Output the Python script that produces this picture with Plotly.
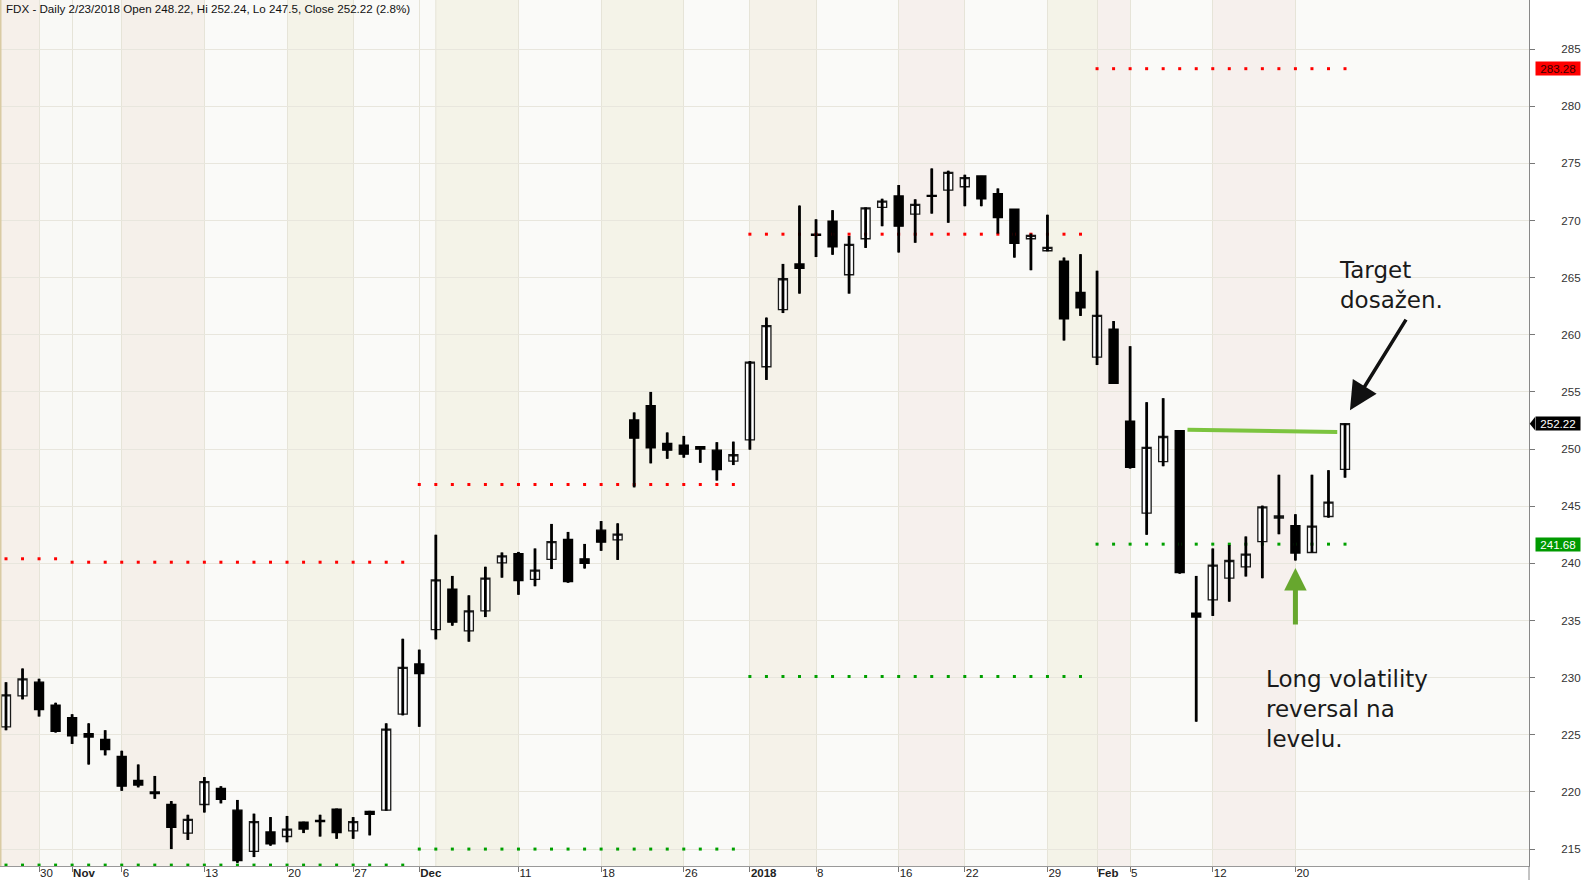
import plotly.graph_objects as go

# ---------------- data ----------------
dates = [
    "2017-10-26", "2017-10-27", "2017-10-30", "2017-10-31", "2017-11-01", "2017-11-02", "2017-11-03",
    "2017-11-06", "2017-11-07", "2017-11-08", "2017-11-09", "2017-11-10",
    "2017-11-13", "2017-11-14", "2017-11-15", "2017-11-16", "2017-11-17",
    "2017-11-20", "2017-11-21", "2017-11-22", "2017-11-24",
    "2017-11-27", "2017-11-28", "2017-11-29", "2017-11-30", "2017-12-01",
    "2017-12-04", "2017-12-05", "2017-12-06", "2017-12-07", "2017-12-08",
    "2017-12-11", "2017-12-12", "2017-12-13", "2017-12-14", "2017-12-15",
    "2017-12-18", "2017-12-19", "2017-12-20", "2017-12-21", "2017-12-22",
    "2017-12-26", "2017-12-27", "2017-12-28", "2017-12-29",
    "2018-01-02", "2018-01-03", "2018-01-04", "2018-01-05",
    "2018-01-08", "2018-01-09", "2018-01-10", "2018-01-11", "2018-01-12",
    "2018-01-16", "2018-01-17", "2018-01-18", "2018-01-19",
    "2018-01-22", "2018-01-23", "2018-01-24", "2018-01-25", "2018-01-26",
    "2018-01-29", "2018-01-30", "2018-01-31", "2018-02-01", "2018-02-02",
    "2018-02-05", "2018-02-06", "2018-02-07", "2018-02-08", "2018-02-09",
    "2018-02-12", "2018-02-13", "2018-02-14", "2018-02-15", "2018-02-16",
    "2018-02-20", "2018-02-21", "2018-02-22", "2018-02-23",
]
opens = [
    225.7, 228.4, 229.6, 227.6, 226.5, 225.1, 224.6,
    223.1, 221.0, 220.0, 218.9, 216.4,
    218.9, 220.3, 218.4, 214.8, 216.5,
    216.1, 217.35, 217.5, 218.5,
    216.6, 218.3, 218.4, 226.8, 231.2,
    234.2, 237.75, 234.1, 235.85, 240.05,
    240.85, 238.6, 240.35, 242.1, 240.4,
    242.9, 242.05, 252.55, 253.8, 250.5,
    250.35, 250.2, 249.9, 248.95,
    250.8, 257.2, 262.2, 266.2,
    268.8, 269.95, 265.25, 268.4, 271.15,
    272.15, 270.55, 272.2, 272.65,
    272.95, 273.9, 272.35, 271.0, 268.4,
    267.35, 266.45, 263.7, 258.05, 260.5,
    252.45, 244.4, 248.9, 251.6, 235.65,
    236.8, 238.7, 239.7, 241.9, 243.95,
    243.3, 240.95, 244.1, 248.22,
]
highs = [
    229.6, 230.8, 229.9, 227.8, 226.8, 226.0, 225.4,
    223.6, 222.4, 221.4, 219.2, 218.0,
    221.3, 220.5, 219.3, 218.1, 217.8,
    217.9, 217.4, 218.0, 218.55,
    217.8, 218.35, 226.0, 233.4, 232.45,
    242.5, 238.9, 237.2, 239.7, 240.95,
    241.0, 241.3, 243.45, 242.75, 241.7,
    243.7, 243.5, 253.2, 255.0, 251.45,
    251.15, 250.25, 250.6, 250.65,
    257.7, 261.5, 266.2, 271.3,
    270.1, 270.9, 268.65, 271.15, 271.9,
    273.1, 271.85, 274.55, 274.35,
    274.0, 273.9, 272.8, 271.0, 268.85,
    270.5, 266.75, 267.05, 265.6, 261.2,
    259.0, 254.1, 254.45, 251.65, 238.9,
    241.3, 241.6, 242.35, 245.05, 247.75,
    244.3, 247.75, 248.15, 252.24,
]
lows = [
    225.4, 228.1, 226.6, 225.2, 224.2, 222.4, 223.2,
    220.1, 220.4, 219.4, 215.0, 215.8,
    218.2, 219.0, 213.8, 214.3, 215.3,
    215.6, 216.4, 216.1, 215.9,
    215.9, 216.2, 218.35, 226.7, 225.7,
    233.35, 234.55, 233.15, 235.3, 238.75,
    237.25, 238.0, 239.5, 238.3, 239.55,
    241.1, 240.3, 246.65, 248.75, 249.15,
    249.25, 248.8, 247.25, 248.6,
    249.95, 256.05, 261.9, 263.6,
    266.8, 267.0, 263.6, 267.6, 269.5,
    267.2, 268.05, 270.6, 269.8,
    271.25, 271.25, 268.85, 266.75, 265.65,
    267.3, 259.5, 261.65, 257.35, 255.7,
    248.3, 242.5, 248.5, 239.1, 226.15,
    235.4, 236.65, 238.85, 238.7, 242.55,
    240.25, 240.95, 244.0, 247.5,
]
closes = [
    228.5, 229.9, 227.2, 225.3, 224.9, 224.8, 223.7,
    220.5, 220.6, 219.85, 216.9, 217.6,
    220.9, 219.35, 214.0, 217.4, 215.45,
    216.75, 216.75, 217.4, 216.45,
    217.4, 218.05, 225.5, 230.9, 230.35,
    238.55, 234.85, 235.85, 238.7, 240.65,
    238.5, 239.4, 241.9, 238.4, 240.0,
    241.85, 242.55, 250.95, 250.1, 249.9,
    249.55, 250.0, 248.2, 249.5,
    257.6, 260.8, 264.9, 265.8,
    268.7, 267.7, 267.9, 271.1, 271.7,
    269.5, 271.4, 272.1, 274.2,
    273.75, 271.9, 270.25, 268.0, 268.7,
    267.65, 261.4, 262.35, 261.7, 255.75,
    248.4, 250.15, 251.1, 239.2, 235.3,
    239.85, 240.25, 240.8, 244.95, 244.15,
    240.9, 243.25, 245.35, 252.22,
]

tick_dates = ["2017-10-30", "2017-11-01", "2017-11-06", "2017-11-13", "2017-11-20", "2017-11-27",
              "2017-12-01", "2017-12-11", "2017-12-18", "2017-12-26", "2018-01-02", "2018-01-08",
              "2018-01-16", "2018-01-22", "2018-01-29", "2018-02-01", "2018-02-05", "2018-02-12",
              "2018-02-20"]
tick_labels = ["30", "<b>Nov</b>", "6", "13", "20", "27", "<b>Dec</b>", "11", "18", "26",
               "<b>2018</b>", "8", "16", "22", "29", "<b>Feb</b>", "5", "12", "20"]

# monthly levels (red = upper, green = lower)
red_level_start = ["2017-10-26", "2017-11-01", "2017-12-01", "2018-01-02", "2018-02-01"]
red_level_end = ["2017-10-31", "2017-11-30", "2017-12-29", "2018-01-31", "2018-02-23"]
red_level_value = [240.4, 240.1, 246.9, 268.8, 283.28]
green_level_start = ["2017-10-26", "2017-12-01", "2018-01-02", "2018-02-01"]
green_level_end = ["2017-11-30", "2017-12-29", "2018-01-31", "2018-02-23"]
green_level_value = [213.6, 215.0, 230.1, 241.68]

resist_dates = ["2018-02-08", "2018-02-23"]
resist_values = [251.7, 251.5]

y_ticks = list(range(215, 290, 5))
y_range = [213.52, 289.29]

# week / month background bands (start dates)
band_starts = ["2017-10-30", "2017-11-01", "2017-11-06", "2017-11-13", "2017-11-20", "2017-11-27",
               "2017-12-01", "2017-12-04", "2017-12-11", "2017-12-18", "2017-12-26", "2018-01-02",
               "2018-01-08", "2018-01-16", "2018-01-22", "2018-01-29", "2018-02-01", "2018-02-05",
               "2018-02-12", "2018-02-20"]
band_colors = ["#f6f0ea",  # before Oct 30
               "#f9f9f6", "#f9f9f6", "#f5f0ea", "#fafaf8", "#f4f3e8", "#fafaf8",
               "#fafaf8", "#f4f3e8", "#fafaf8", "#f4f3e8", "#fafaf8", "#f5f2e9",
               "#fafaf8", "#f6f0ed", "#fafaf8", "#f4f3e8", "#f6f0ed", "#fafaf8",
               "#f6f0ed", "#fafaf8"]

# ---------------- figure ----------------
pos = {d: i for i, d in enumerate(dates)}
xs = list(range(len(dates)))
x_range = [-0.363, 92.13]

fig = go.Figure()

# level dots
for s, e, v in zip(red_level_start, red_level_end, red_level_value):
    px = list(range(pos[s], pos[e] + 1))
    fig.add_trace(go.Scatter(x=px, y=[v] * len(px), mode="markers",
                             marker=dict(symbol="square", size=3, color="#ff0000"),
                             hoverinfo="skip"))
for s, e, v in zip(green_level_start, green_level_end, green_level_value):
    px = list(range(pos[s], pos[e] + 1))
    fig.add_trace(go.Scatter(x=px, y=[v] * len(px), mode="markers",
                             marker=dict(symbol="square", size=3, color="#00a000"),
                             hoverinfo="skip"))

# thick wicks
wx, wy = [], []
for i, (h, l) in enumerate(zip(highs, lows)):
    wx += [i, i, None]
    wy += [l, h, None]
fig.add_trace(go.Scatter(x=wx, y=wy, mode="lines", line=dict(color="black", width=2.8),
                         hoverinfo="skip"))

fig.add_trace(go.Candlestick(
    x=xs, open=opens, high=highs, low=lows, close=closes,
    increasing=dict(fillcolor="white", line=dict(color="#1a1a1a", width=1.3)),
    decreasing=dict(fillcolor="black", line=dict(color="black", width=1.3)),
    whiskerwidth=0, hoverinfo="skip"))

# green resistance line
fig.add_trace(go.Scatter(x=[pos[resist_dates[0]] + 0.47, pos[resist_dates[1]] - 0.47], y=resist_values,
                         mode="lines", line=dict(color="#7cc43f", width=4), hoverinfo="skip"))

shapes = []
edges = [x_range[0]] + [pos[d] for d in band_starts] + [x_range[1]]
for k, c in enumerate(band_colors):
    shapes.append(dict(type="rect", xref="x", yref="paper", x0=edges[k], x1=edges[k + 1], y0=0, y1=1,
                       fillcolor=c, line=dict(width=0), layer="below"))
shapes.append(dict(type="line", xref="x", yref="paper", x0=pos["2017-12-04"], x1=pos["2017-12-04"],
                   y0=0, y1=1, line=dict(color="#e6e4d8", width=1), layer="below"))
shapes.append(dict(type="line", xref="paper", yref="paper", x0=0.0005, x1=0.0005, y0=0, y1=1,
                   line=dict(color="#d9cba3", width=1.5)))
shapes.append(dict(type="line", xref="paper", yref="paper", x0=1, x1=1, y0=-14 / 866, y1=0,
                   line=dict(color="#888888", width=1)))

def yp(v):
    return (v - y_range[0]) / (y_range[1] - y_range[0])

bx = 1535 / 1529
last_close = closes[-1]
shapes.append(dict(type="path", xref="paper", yref="paper",
                   path=f"M 1.0005,{yp(last_close)} L {bx},{yp(last_close + 0.58)} L {bx},{yp(last_close - 0.58)} Z",
                   fillcolor="black", line=dict(width=0)))

annotations = [
    dict(xref="paper", yref="paper", x=4 / 1529, y=1, xanchor="left", yanchor="top", showarrow=False,
         text="FDX - Daily 2/23/2018 Open 248.22, Hi 252.24, Lo 247.5, Close 252.22 (2.8%)",
         font=dict(family="Liberation Sans", size=11.6, color="#111111")),
    dict(xref="paper", yref="paper", x=bx, y=yp(red_level_value[-1]), xanchor="left", yanchor="middle",
         showarrow=False, text=f"{red_level_value[-1]:.2f}", bgcolor="#ff0000", width=44, height=13,
         borderpad=0, font=dict(family="Liberation Sans", size=11.6, color="#3a0000")),
    dict(xref="paper", yref="paper", x=bx, y=yp(last_close), xanchor="left", yanchor="middle",
         showarrow=False, text=f"{last_close:.2f}", bgcolor="#000000", width=44, height=13,
         borderpad=0, font=dict(family="Liberation Sans", size=11.6, color="#ffffff")),
    dict(xref="paper", yref="paper", x=bx, y=yp(green_level_value[-1]), xanchor="left", yanchor="middle",
         showarrow=False, text=f"{green_level_value[-1]:.2f}", bgcolor="#009a00", width=44, height=13,
         borderpad=0, font=dict(family="Liberation Sans", size=11.6, color="#ffffff")),
    dict(xref="paper", yref="paper", x=1337 / 1529, y=1 - 255 / 866, xanchor="left", yanchor="top",
         showarrow=False, align="left", text="Target<br>dosažen.",
         font=dict(family="DejaVu Sans", size=23, color="#1a1a1a")),
    dict(xref="paper", yref="paper", x=1264 / 1529, y=1 - 664 / 866, xanchor="left", yanchor="top",
         showarrow=False, align="left", text="Long volatility<br>reversal na<br>levelu.",
         font=dict(family="DejaVu Sans", size=23, color="#1a1a1a")),
    dict(xref="x", yref="y", x=81.3, y=253.4, ax=57, ay=-92, text="", showarrow=True,
         arrowhead=2, arrowsize=1.6, arrowwidth=3.5, arrowcolor="#111111", standoff=0),
    dict(xref="x", yref="y", x=pos["2018-02-20"], y=239.6, ax=0, ay=58, text="", showarrow=True,
         arrowhead=2, arrowsize=0.9, arrowwidth=5, arrowcolor="#67a72e", standoff=0),
]

fig.update_layout(
    width=1582, height=880,
    margin=dict(l=0, r=53, t=0, b=14),
    paper_bgcolor="white", plot_bgcolor="#fafaf8",
    showlegend=False, boxgap=0.22,
    shapes=shapes, annotations=annotations,
    xaxis=dict(range=x_range, tickvals=[pos[d] for d in tick_dates], ticktext=tick_labels,
               ticks="outside", ticklen=5, tickcolor="#777777", showgrid=True, gridcolor="#e6e4d8",
               gridwidth=1, zeroline=False, showline=True, linecolor="#999999", linewidth=1,
               ticklabelposition="outside right", ticklabelstandoff=-4,
               tickfont=dict(family="Liberation Sans", size=11.5, color="#222222"),
               rangeslider=dict(visible=False), fixedrange=True),
    yaxis=dict(side="right", range=y_range, tickvals=y_ticks, ticks="outside", ticklen=5,
               tickcolor="#777777", showgrid=True, gridcolor="#e8e6dd", gridwidth=1,
               showline=True, linecolor="#888888", linewidth=1, zeroline=False,
               ticklabelstandoff=24,
               tickfont=dict(family="Liberation Sans", size=11.6, color="#333333"), fixedrange=True),
)

fig.write_html("out.html", config={"displayModeBar": False},
               post_script="document.body.style.margin='0';document.body.style.overflow='hidden';")
